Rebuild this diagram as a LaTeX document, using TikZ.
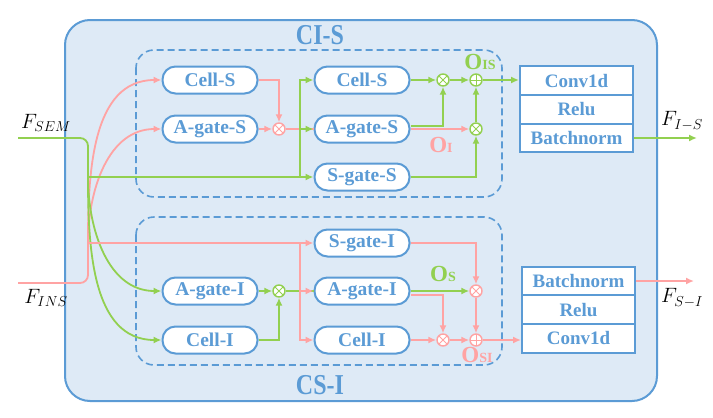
\documentclass[tikz,border=0pt]{standalone}
\usepackage{fontspec}
\setmainfont{Liberation Serif}
\usetikzlibrary{arrows.meta}
\definecolor{bl}{HTML}{5B9BD5}
\definecolor{bgf}{HTML}{DEEAF6}
\definecolor{gr}{HTML}{92D050}
\definecolor{pk}{HTML}{FFA3A3}
\begin{document}
\begin{tikzpicture}[x=1pt,y=-1pt,
  box/.style={draw=bl, line width=2pt, fill=white, rounded corners=13pt, minimum width=95pt, minimum height=27pt, inner sep=0pt, text=bl, font=\fontsize{19.5}{19.5}\selectfont\bfseries},
  stk/.style={draw=bl, line width=2pt, fill=white, minimum width=113pt, minimum height=28.7pt, inner sep=0pt, text=bl, font=\fontsize{19}{19}\selectfont\bfseries},
  gline/.style={draw=gr, line width=1.8pt},
  pline/.style={draw=pk, line width=1.8pt},
  arr/.style={-{Latex[length=8pt,width=7pt]}},
  opn/.style={circle, draw=#1, fill=white, line width=1.4pt, minimum size=12pt, inner sep=0pt},
  mul/.style={opn=#1, path picture={\draw[#1, line width=0.9pt] (path picture bounding box.north west) -- (path picture bounding box.south east) (path picture bounding box.north east) -- (path picture bounding box.south west);}},
  add/.style={opn=#1, path picture={\draw[#1, line width=0.9pt] (path picture bounding box.north) -- (path picture bounding box.south) (path picture bounding box.east) -- (path picture bounding box.west);}},
  olab/.style={inner sep=0pt, font=\fontsize{23}{23}\selectfont\bfseries},
  ttl/.style={inner sep=0pt, text=bl, font=\fontsize{24}{24}\selectfont\bfseries},
  flab/.style={inner sep=0pt, font=\fontsize{21}{21}\selectfont}
]
\useasboundingbox (0,0) rectangle (713,418);
% outer box
\draw[draw=bl, fill=bgf, line width=2pt, rounded corners=25pt] (65,20) rectangle (657,401);
\draw[draw=bl, line width=1.6pt, dash pattern=on 7pt off 4pt, rounded corners=18pt] (136,50) rectangle (502,197);
\draw[draw=bl, line width=1.6pt, dash pattern=on 7pt off 4pt, rounded corners=18pt] (136,217) rectangle (502,365);
\node[ttl] (tCIS) at (320,35) {\scalebox{1}[1.2]{CI-S}};
\node[ttl] (tCSI) at (320,385) {\scalebox{1}[1.2]{CS-I}};

% nodes upper
\node[box] (cs1) at (210,80) {Cell-S};
\node[box] (as1) at (210,129) {A-gate-S};
\node[box] (cs2) at (362,80) {Cell-S};
\node[box] (as2) at (362,129) {A-gate-S};
\node[box] (ss) at (362,177) {S-gate-S};
\node[mul=pk] (m1) at (279,129) {};
\node[mul=gr] (m2) at (443,80) {};
\node[add=gr] (p1) at (476,80) {};
\node[mul=gr] (m3) at (476,129) {};
% nodes lower
\node[box] (sgI) at (362,243) {S-gate-I};
\node[box] (ai2) at (362,291) {A-gate-I};
\node[box] (ci2) at (362,340) {Cell-I};
\node[box] (ai1) at (210,291) {A-gate-I};
\node[box] (ci1) at (210,340) {Cell-I};
\node[mul=gr] (m4) at (279,291) {};
\node[mul=pk] (m5) at (476,291) {};
\node[mul=pk] (m6) at (443,340) {};
\node[add=pk] (p2) at (476,340) {};

% stacks
\node[stk] (c1) at (576.5,80.5) {Conv1d};
\node[stk] (r1) at (576.5,109.2) {Relu};
\node[stk] (bn1) at (576.5,137.9) {Batchnorm};
\node[stk] (bn2) at (578.5,281) {Batchnorm};
\node[stk] (r2) at (578.5,309.7) {Relu};
\node[stk] (c2) at (578.5,338.4) {Conv1d};

% labels
\node[olab, text=gr] (oIS) at (480,62) {O\raisebox{-0.5pt}{\fontsize{14}{14}\selectfont IS}};
\node[olab, text=pk] (oI) at (441,145) {O\raisebox{-0.5pt}{\fontsize{14}{14}\selectfont I}};
\node[olab, text=gr] (oS) at (443,274) {O\raisebox{-0.5pt}{\fontsize{14}{14}\selectfont S}};
\node[olab, text=pk] (oSI) at (477,355) {O\raisebox{-0.5pt}{\fontsize{14}{14}\selectfont SI}};
\node[flab] (fsem) at (46,123) {$F_{SEM}$};
\node[flab] (fins) at (46,298) {$F_{INS}$};
\node[flab] (fis) at (682,121) {$F_{I-S}$};
\node[flab] (fsi) at (682,298) {$F_{S-I}$};

% coordinates
\coordinate (inS) at (18,138);
\coordinate (inI) at (18,283);
\coordinate (gS) at (88,177);
\coordinate (jI) at (88,243);
\coordinate (jS) at (300,177);
\coordinate (jI2) at (300,243);
\coordinate (outS) at (697,138);
\coordinate (outI) at (694,281);

% left inputs
\draw[gline, rounded corners=8pt] (inS) -| (gS);
\draw[pline, rounded corners=8pt] (inI) -| (jI);
\draw[pline, arr] (jI) to[out=90,in=180] (cs1.west);
\draw[pline, arr] (jI) to[out=90,in=180] (as1.west);
\draw[gline, arr] (gS) to[out=-90,in=180] (ai1.west);
\draw[gline, arr] (gS) to[out=-90,in=180] (ci1.west);
\draw[gline, arr] (gS) -- (ss.west);
\draw[pline, arr] (jI) -- (sgI.west);

% upper connections
\draw[pline, arr] (cs1.east) -| (m1.north);
\draw[pline, arr] (as1.east) -- (m1.west);
\draw[pline] (m1.east) -- (as2.west);
\draw[gline, arr] (jS) |- (cs2.west);
\draw[gline, arr] (jS |- as2.west) -- (as2.west);
\draw[gline, arr] (cs2.east) -- (m2.west);
\draw[gline, arr] (m2.east) -- (p1.west);
\draw[pline, arr] (as2.east) -- (m3.west);
\draw[gline, arr] ([yshift=3pt]as2.east) -| (m2.south);
\draw[gline, arr] (ss.east) -| (m3.south);
\draw[gline, arr] (m3.north) -- (p1.south);
\draw[gline, arr] (p1.east) -- (p1 -| c1.west);
\draw[gline, arr] (bn1.east) -- (outS);

% lower connections
\draw[gline, arr] (ai1.east) -- (m4.west);
\draw[gline, arr] (ci1.east) -| (m4.south);
\draw[gline] (m4.east) -- (ai2.west);
\draw[pline, arr] (jI2) |- (ci2.west);
\draw[pline, arr] (jI2 |- ai2.west) -- (ai2.west);
\draw[pline, arr] (sgI.east) -| (m5.north);
\draw[pline, arr] ([yshift=-4pt]ai2.east) -| (m6.north);
\draw[gline, arr] (ai2.east) -- (m5.west);
\draw[pline, arr] (ci2.east) -- (m6.west);
\draw[pline, arr] (m6.east) -- (p2.west);
\draw[pline, arr] (m5.south) -- (p2.north);
\draw[pline, arr] (p2.east) -- (p2 -| c2.west);
\draw[pline, arr] (bn2.east) -- (outI);
\end{tikzpicture}
\end{document}
